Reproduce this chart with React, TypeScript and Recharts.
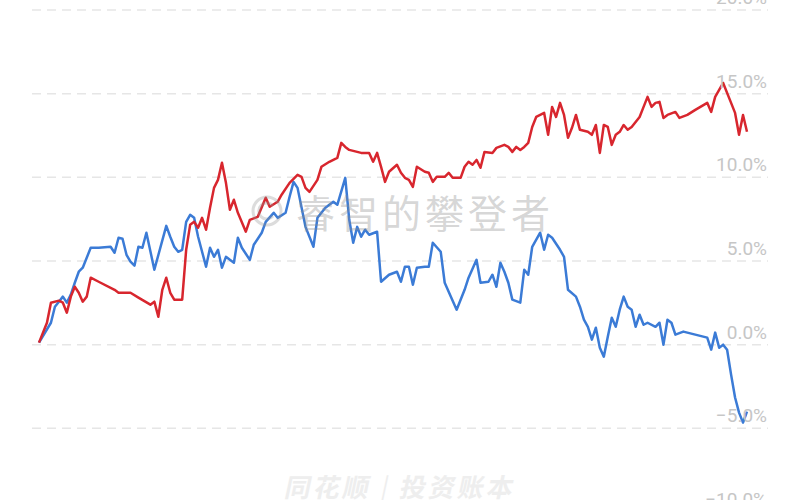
import React from 'react';
import { LineChart, Line, XAxis, YAxis, CartesianGrid } from 'recharts';

// trading-day index and cumulative return (%) for each series
const redDays = [0,2,3,5,6,7,8,9,10,11,12,13,15,19,20,23,25,28,29,30,31,32,33,34,36,37,38,39,40,41,42,43,44,45,46,47,48,49,50,52,53,55,57,58,60,61,63,65,66,67,68,70,71,73,75,76,77,78,80,81,83,84,85,86,87,88,90,91,92,93,94,95,97,98,99,100,102,103,104,106,107,108,109,110,111,112,114,115,117,118,119,120,121,122,123,124,125,127,128,129,130,131,132,133,134,135,136,138,139,140,141,142,143,144,145,146,147,148,149,151,152,153,154,155,156,157,158,160,161,163,165,168,169,170,171,172,174,175,176,177,178];
const redValues = [0.12,1.31,2.51,2.63,2.51,1.91,2.87,3.46,3.10,2.57,2.87,4.00,3.76,3.28,3.10,3.10,2.81,2.39,2.57,1.67,3.28,4.00,3.10,2.69,2.69,5.67,7.16,7.34,6.99,7.58,6.87,8.18,9.37,9.85,10.87,9.67,8.06,8.66,7.88,6.75,7.46,7.64,8.78,8.24,8.54,8.96,9.67,10.15,10.03,9.37,9.13,9.85,10.63,10.93,11.16,12.06,11.82,11.64,11.52,11.46,11.46,10.93,11.46,10.63,9.73,10.33,10.75,10.27,9.97,9.85,9.43,10.63,10.33,10.27,9.73,10.03,10.03,10.27,9.97,9.97,10.63,10.93,10.75,11.04,10.57,11.52,11.46,11.76,11.94,11.82,11.52,11.82,11.64,11.82,12.06,13.01,13.61,13.85,12.54,14.21,13.61,14.45,13.73,12.36,12.96,13.73,12.84,12.72,12.54,13.13,11.46,13.13,13.01,11.94,12.54,12.72,13.13,12.84,13.01,13.61,14.21,14.81,14.21,14.45,14.51,13.55,13.73,13.91,13.55,13.73,14.03,14.45,13.91,14.81,15.22,15.64,14.45,13.85,12.54,13.73,12.72];

const blueDays = [0,3,4,5,6,7,8,9,10,11,13,15,18,19,20,21,22,23,24,25,26,27,29,32,33,34,35,36,37,38,39,40,42,43,44,45,46,47,48,49,50,51,53,54,56,57,59,60,62,63,64,65,67,69,70,72,74,75,77,78,79,80,81,82,83,85,86,88,90,91,92,93,94,95,97,98,99,101,102,105,107,108,110,111,113,114,115,116,117,118,119,121,122,123,124,126,127,128,129,131,132,133,135,136,137,138,139,140,141,142,143,144,145,146,147,148,149,150,151,152,153,155,156,157,158,159,160,162,165,168,169,170,171,172,173,174,175,176,177,178];
const blueValues = [0.12,1.31,2.27,2.57,2.87,2.51,2.99,3.70,4.36,4.60,5.79,5.79,5.85,5.49,6.39,6.33,5.37,4.96,4.72,5.85,5.79,6.69,4.48,7.10,6.45,5.85,5.55,5.67,7.34,7.76,7.58,6.45,4.66,5.79,5.25,5.67,4.60,5.25,5.07,4.90,6.39,5.79,5.07,5.97,6.69,7.34,7.88,7.58,7.88,8.84,9.73,9.37,7.04,5.85,7.58,8.18,8.54,8.36,9.97,7.46,6.09,7.04,6.45,6.87,6.57,6.75,3.76,4.18,4.36,3.76,4.66,4.66,3.58,4.60,4.66,4.66,6.09,5.55,3.70,2.09,3.28,4.00,5.07,3.70,3.76,4.18,3.46,4.90,4.36,3.70,2.69,2.51,4.48,4.18,5.85,6.69,5.67,6.57,6.39,5.67,5.25,3.28,2.87,2.27,1.49,1.07,0.30,1.01,-0.18,-0.72,0.48,1.61,1.07,2.09,2.87,2.27,2.09,1.07,1.79,1.19,1.31,1.07,1.31,0.00,1.49,1.31,0.60,0.78,0.60,0.42,-0.30,0.72,-0.18,0.00,-0.30,-1.79,-3.16,-4.06,-4.66,-4.00];

const yTicks = [-10, -5, 0, 5, 10, 15, 20];

const redData = redDays.map((d, i) => ({ day: d, value: redValues[i] }));
const blueData = blueDays.map((d, i) => ({ day: d, value: blueValues[i] }));

const fmt = (v: number) => (v < 0 ? '\u2212' : '') + Math.abs(v).toFixed(1) + '%';

const YTick = (props: any) => {
  const { y, payload } = props;
  return (
    <text x={767} y={y - 6} textAnchor="end" fontFamily="Roboto, 'DejaVu Sans', sans-serif" fontSize={19} fill="#c6c6c6">
      {fmt(payload.value)}
    </text>
  );
};

export default function App() {
  return (
    <div style={{ position: 'absolute', left: 0, top: 0, width: 800, height: 500, overflow: 'hidden', background: '#fff' }}>
      <div style={{ position: 'absolute', left: 0, top: -20 }}>
        <LineChart width={800} height={560} margin={{ top: 30, right: 32, bottom: 28, left: 32 }}>
          <CartesianGrid vertical={false} stroke="#e6e6e6" strokeDasharray="9 6" strokeWidth={1.5} />
          <XAxis type="number" dataKey="day" domain={[-1.76, 183.28]} hide allowDataOverflow />
          <YAxis
            orientation="right"
            mirror
            width={60}
            domain={[-10, 20]}
            ticks={yTicks}
            interval={0}
            axisLine={false}
            tickLine={false}
            tick={YTick}
            allowDataOverflow
          />
          <Line data={blueData} dataKey="value" type="linear" stroke="#3b7bd6" strokeWidth={2.5} dot={false} isAnimationActive={false} strokeLinejoin="round" />
          <Line data={redData} dataKey="value" type="linear" stroke="#d8262e" strokeWidth={2.5} dot={false} isAnimationActive={false} strokeLinejoin="round" />
        </LineChart>
      </div>
      <div style={{ position: 'absolute', left: 251, top: 195, width: 32, height: 32, pointerEvents: 'none' }}>
        <svg width={32} height={32}>
          <circle cx={16} cy={16} r={14} fill="none" stroke="rgba(150,150,150,0.33)" strokeWidth={3} />
          <path d="M 22 11 A 8 8 0 1 0 22 21" fill="none" stroke="rgba(150,150,150,0.33)" strokeWidth={3} />
        </svg>
      </div>
      <div style={{ position: 'absolute', left: 296, top: 191, fontFamily: "'Noto Sans CJK SC', sans-serif", fontSize: 39, lineHeight: '40px', letterSpacing: 4, color: 'rgba(140,140,140,0.36)', whiteSpace: 'nowrap', pointerEvents: 'none' }}>
        睿智的攀登者
      </div>
      <div style={{ position: 'absolute', left: 286, top: 472, fontFamily: "'Noto Sans CJK SC', sans-serif", fontSize: 26, lineHeight: '27px', fontWeight: 700, color: '#eeeeee', whiteSpace: 'nowrap', transform: 'skewX(-12deg)', letterSpacing: 3, pointerEvents: 'none' }}>
        同花顺 <span style={{ fontWeight: 400 }}>|</span> 投资账本
      </div>
    </div>
  );
}
